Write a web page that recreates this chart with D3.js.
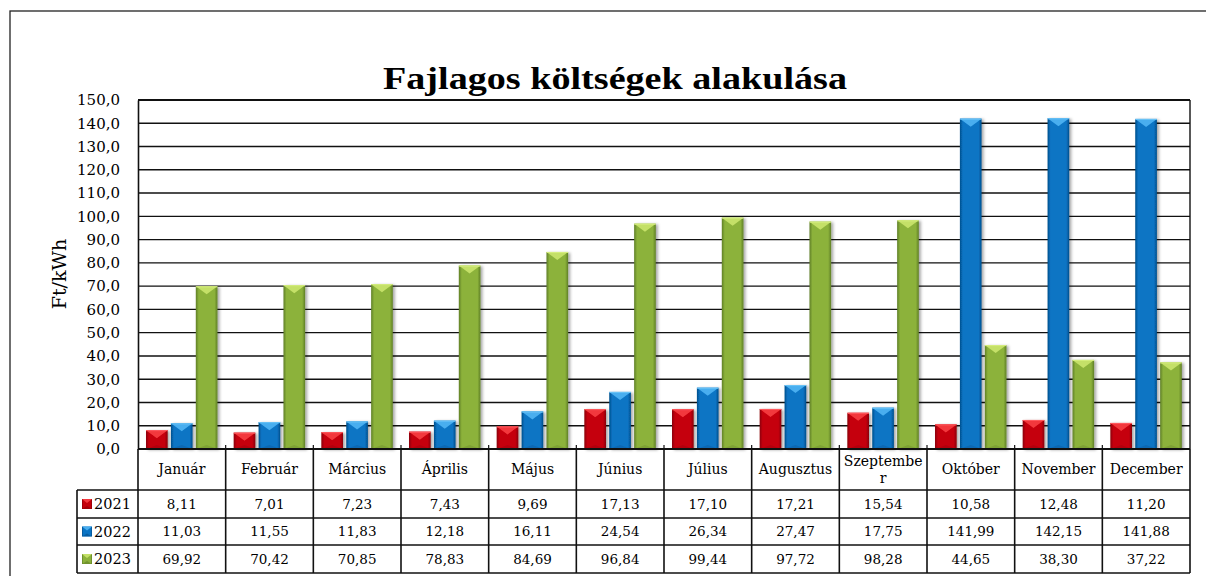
<!DOCTYPE html>
<html>
<head>
<meta charset="utf-8">
<script src="https://cdn.jsdelivr.net/npm/d3@7/dist/d3.min.js"></script>
<style>
  html, body { margin: 0; padding: 0; background: #fff; }
  svg { display: block; }
</style>
</head>
<body>
<svg id="chart" width="1206" height="576"></svg>
<script>
// ---------- DATA ----------
const title = "Fajlagos költségek alakulása";
const yAxisTitle = "Ft/kWh";
const months = ["Január", "Február", "Március", "Április", "Május", "Június",
                "Július", "Augusztus", "Szeptember", "Október", "November", "December"];
const seriesNames = ["2021", "2022", "2023"];
const values2021 = [8.11, 7.01, 7.23, 7.43, 9.69, 17.13, 17.10, 17.21, 15.54, 10.58, 12.48, 11.20];
const values2022 = [11.03, 11.55, 11.83, 12.18, 16.11, 24.54, 26.34, 27.47, 17.75, 141.99, 142.15, 141.88];
const values2023 = [69.92, 70.42, 70.85, 78.83, 84.69, 96.84, 99.44, 97.72, 98.28, 44.65, 38.30, 37.22];
const yTicks = [0, 10, 20, 30, 40, 50, 60, 70, 80, 90, 100, 110, 120, 130, 140, 150];

const seriesValues = [values2021, values2022, values2023];
const palettes = [
  { base: "#C5000B", dark: "#8A0006", light: "#F2383E", top: "#FF5A5F" },
  { base: "#0A74C4", dark: "#034F8C", light: "#49AEEF", top: "#6CC4F7" },
  { base: "#8CB23B", dark: "#5F7F26", light: "#C4E068", top: "#D6EE80" }
];

// ---------- LAYOUT ----------
const svg = d3.select("#chart");
const plotL = 138, plotR = 1190, plotT = 100, plotB = 449;
const headerB = 490, rowH = [490, 518, 545, 573];
const legendL = 77;
const serif = "'DejaVu Serif', serif";

const loc = d3.formatLocale({ decimal: ",", thousands: " ", grouping: [3], currency: ["", ""] });
const fmt1 = loc.format(".1f");
const fmt2 = loc.format(".2f");

const x0 = d3.scaleBand().domain(months).range([plotL, plotR]).paddingInner(0).paddingOuter(0);
const x1 = d3.scaleBand().domain(seriesNames).range([8, x0.bandwidth() - 8.2]).paddingInner(0.13);
const y = d3.scaleLinear().domain([0, 150]).range([plotB, plotT]);

// defs: gradients and shadow
const defs = svg.append("defs");
palettes.forEach((p, i) => {
  const g = defs.append("linearGradient").attr("id", "grad" + i)
    .attr("x1", "0%").attr("x2", "100%").attr("y1", "0%").attr("y2", "0%");
  g.append("stop").attr("offset", "0%").attr("stop-color", p.dark);
  g.append("stop").attr("offset", "14%").attr("stop-color", p.base);
  g.append("stop").attr("offset", "45%").attr("stop-color", p.base);
  g.append("stop").attr("offset", "86%").attr("stop-color", p.base);
  g.append("stop").attr("offset", "100%").attr("stop-color", p.dark);
});
const f = defs.append("filter").attr("id", "shadow").attr("x", "-30%").attr("y", "-10%").attr("width", "160%").attr("height", "130%");
f.append("feDropShadow").attr("dx", 2).attr("dy", 1).attr("stdDeviation", 1.6)
  .attr("flood-color", "#000").attr("flood-opacity", 0.35);

// outer frame
svg.append("rect").attr("x", 10).attr("y", 11).attr("width", 1220).attr("height", 620)
  .attr("fill", "#fff").attr("stroke", "#222").attr("stroke-width", 1.3);

// title
svg.append("text").attr("x", 615).attr("y", 89).attr("text-anchor", "middle")
  .attr("font-family", "'Liberation Serif', serif").attr("font-weight", "bold")
  .attr("font-size", 32).attr("textLength", 464).attr("lengthAdjust", "spacingAndGlyphs")
  .attr("fill", "#000").text(title);

// gridlines
svg.append("g").selectAll("line").data(yTicks.filter(t => t > 0)).join("line")
  .attr("x1", plotL).attr("x2", plotR)
  .attr("y1", d => y(d)).attr("y2", d => y(d))
  .attr("stroke", "#111").attr("stroke-width", d => d === 150 ? 2.2 : 1.4);

// right border of plot
svg.append("line").attr("x1", plotR).attr("x2", plotR).attr("y1", plotT).attr("y2", plotB)
  .attr("stroke", "#111").attr("stroke-width", 1.4);

// y axis with labels
const yAxis = d3.axisLeft(y).tickValues(yTicks).tickSize(0).tickPadding(18).tickFormat(fmt1);
const yg = svg.append("g").attr("transform", `translate(${plotL},0)`).call(yAxis);
yg.select(".domain").attr("stroke", "#111").attr("stroke-width", 1.6);
yg.selectAll("text").attr("font-family", serif).attr("font-size", 15).attr("fill", "#000");

// y axis title
svg.append("text").attr("transform", "translate(66,274) rotate(-90)")
  .attr("text-anchor", "middle").attr("font-family", serif).attr("font-size", 19)
  .attr("fill", "#000").text(yAxisTitle);

// bars
function drawBevelBar(g, x, yTop, w, h, si) {
  const p = palettes[si];
  const bg = g.append("g").attr("filter", "url(#shadow)");
  bg.append("rect").attr("x", x).attr("y", yTop).attr("width", w).attr("height", h)
    .attr("fill", `url(#grad${si})`);
  const th = Math.min(8, h / 2);
  // top facet (downward triangle)
  bg.append("path")
    .attr("d", `M${x},${yTop} L${x + w},${yTop} L${x + w / 2},${yTop + th} Z`)
    .attr("fill", p.light);
  bg.append("line").attr("x1", x).attr("x2", x + w).attr("y1", yTop + 0.5).attr("y2", yTop + 0.5)
    .attr("stroke", p.top).attr("stroke-width", 1);
  // bottom facet
  const bh = Math.min(4, h / 3);
  bg.append("path")
    .attr("d", `M${x},${yTop + h} L${x + w},${yTop + h} L${x + w / 2},${yTop + h - bh} Z`)
    .attr("fill", p.dark).attr("opacity", 0.3);
}

const groups = svg.append("g").selectAll("g").data(months).join("g")
  .attr("transform", d => `translate(${x0(d)},0)`);
groups.each(function (m, mi) {
  const g = d3.select(this);
  seriesNames.forEach((s, si) => {
    const v = seriesValues[si][mi];
    drawBevelBar(g, x1(s), y(v), x1.bandwidth(), y(0) - y(v), si);
  });
});

// category boundary ticks at axis
svg.append("g").selectAll("line").data(months.slice(1)).join("line")
  .attr("x1", d => x0(d)).attr("x2", d => x0(d)).attr("y1", plotB - 4).attr("y2", plotB)
  .attr("stroke", "#111").attr("stroke-width", 1.2);

// ---------- DATA TABLE ----------
const tg = svg.append("g");
const lineC = "#111";
tg.append("line").attr("x1", plotL).attr("x2", plotR).attr("y1", plotB).attr("y2", plotB)
  .attr("stroke", lineC).attr("stroke-width", 1.8);
rowH.forEach((yy) => {
  tg.append("line").attr("x1", legendL).attr("x2", plotR).attr("y1", yy).attr("y2", yy)
    .attr("stroke", lineC).attr("stroke-width", 1.6);
});
const bounds = months.map(m => x0(m)).concat([plotR]);
bounds.forEach(bx => {
  tg.append("line").attr("x1", bx).attr("x2", bx).attr("y1", plotB).attr("y2", rowH[3])
    .attr("stroke", lineC).attr("stroke-width", 1.6);
});
tg.append("line").attr("x1", legendL).attr("x2", legendL).attr("y1", rowH[0]).attr("y2", rowH[3])
  .attr("stroke", lineC).attr("stroke-width", 1.6);

// month labels (with Excel-like character wrap)
const colW = x0.bandwidth();
months.forEach(m => {
  const cx = x0(m) + colW / 2;
  const t = tg.append("text").attr("x", cx).attr("y", (plotB + headerB) / 2).attr("dy", "0.35em")
    .attr("text-anchor", "middle").attr("font-family", serif).attr("font-size", 14)
    .attr("fill", "#000").text(m);
  if (t.node().getComputedTextLength() > colW - 6) {
    let cut = m.length - 1;
    t.text(m.slice(0, cut));
    while (cut > 1 && t.node().getComputedTextLength() > colW - 6) { cut--; t.text(m.slice(0, cut)); }
    t.attr("y", (plotB + headerB) / 2 - 8);
    tg.append("text").attr("x", cx).attr("y", (plotB + headerB) / 2 + 9).attr("dy", "0.35em")
      .attr("text-anchor", "middle").attr("font-family", serif).attr("font-size", 14)
      .attr("fill", "#000").text(m.slice(cut));
  }
});

// values + legend keys
seriesNames.forEach((s, si) => {
  const cy = (rowH[si] + rowH[si + 1]) / 2;
  tg.selectAll(null).data(seriesValues[si]).join("text")
    .attr("x", (d, i) => x0(months[i]) + colW / 2).attr("y", cy).attr("dy", "0.35em")
    .attr("text-anchor", "middle").attr("font-family", serif).attr("font-size", 13.5)
    .attr("fill", "#000").text(d => fmt2(d));
  const kx = 82, ky = cy - 5, k = 10;
  const p = palettes[si];
  tg.append("rect").attr("x", kx).attr("y", ky).attr("width", k).attr("height", k).attr("fill", `url(#grad${si})`);
  tg.append("path").attr("d", `M${kx},${ky} L${kx + k},${ky} L${kx + k / 2},${ky + 4} Z`).attr("fill", p.light);
  tg.append("path").attr("d", `M${kx},${ky + k} L${kx + k},${ky + k} L${kx + k / 2},${ky + k - 3} Z`).attr("fill", p.dark).attr("opacity", 0.6);
  tg.append("text").attr("x", 94).attr("y", cy).attr("dy", "0.35em")
    .attr("font-family", serif).attr("font-size", 14.5).attr("fill", "#000").text(s);
});
</script>
</body>
</html>
